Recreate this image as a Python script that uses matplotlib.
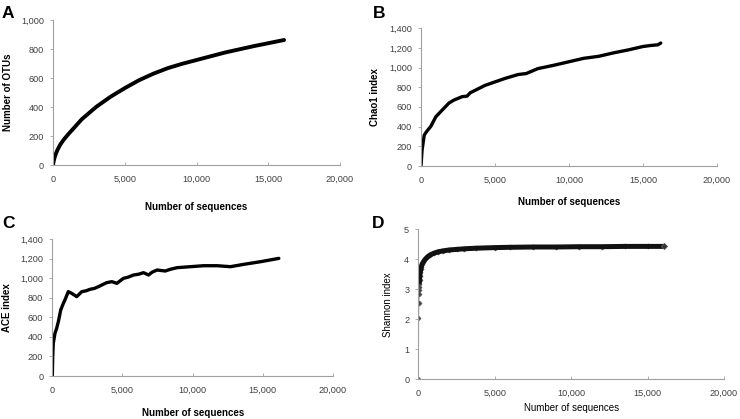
import numpy as np
import matplotlib
matplotlib.use("Agg")
import matplotlib.pyplot as plt
from matplotlib.ticker import FuncFormatter, MultipleLocator

plt.rcParams['font.family'] = ['Liberation Sans', 'DejaVu Sans']

# A - observed OTUs
seq_a = [0, 50, 100, 200, 300, 500, 750, 1000, 1500, 2000, 3000, 4000, 5000, 6000,
         7000, 8000, 9000, 10000, 11000, 12000, 13000, 14000, 15000, 16100]
otu = [0, 28, 48, 78, 102, 140, 175, 205, 260, 315, 400, 470, 530, 585,
       630, 668, 698, 724, 750, 776, 798, 820, 840, 862]

# B - Chao1
seq_b = [0, 70, 220, 380, 670, 1000, 1440, 1890, 2220, 2780, 3110, 3330, 3670, 4330,
         5000, 5670, 6560, 7110, 7890, 9000, 10000, 11000, 12000, 13000, 14000,
         15000, 15500, 16000, 16200]
chao = [0, 160, 315, 350, 405, 500, 570, 640, 670, 705, 710, 745, 770, 820,
        855, 890, 930, 940, 990, 1025, 1060, 1095, 1115, 1150, 1180,
        1215, 1225, 1232, 1250]

# C - ACE
seq_c = [0, 30, 70, 190, 310, 430, 600, 790, 900, 1140, 1380, 1740, 2100, 2400,
         2690, 3000, 3290, 3600, 3880, 4240, 4600, 5070, 5400, 5790, 6150, 6500,
         6860, 7100, 7460, 8050, 8400, 8890, 9840, 10790, 11740, 12690, 13640,
         14840, 16140]
ace = [0, 200, 334, 436, 487, 555, 675, 743, 777, 862, 845, 811, 862, 870,
       886, 895, 913, 935, 954, 964, 947, 998, 1010, 1032, 1040, 1056,
       1032, 1060, 1083, 1073, 1090, 1107, 1117, 1127, 1127, 1117, 1141,
       1168, 1202]

# D - Shannon
seq_d = [0, 10, 20, 30, 40, 50, 60, 80, 100, 130, 160, 200, 250, 340, 450, 600,
         755, 1000, 1300, 1610, 2000, 2500, 3000, 3770, 5000, 6000, 7500, 9000,
         10500, 12000, 13500, 15000, 16100]
shannon = [0, 2.05, 2.55, 2.85, 2.98, 3.08, 3.18, 3.32, 3.45, 3.58, 3.68, 3.76,
           3.84, 3.92, 4.0, 4.08, 4.14, 4.2, 4.25, 4.28, 4.31, 4.33, 4.35, 4.37,
           4.39, 4.4, 4.41, 4.41, 4.42, 4.42, 4.43, 4.43, 4.43]

W, H = 740, 419
fig = plt.figure(figsize=(7.4, 4.19), dpi=100)


def make_ax(l, r, t, b):
    return fig.add_axes([l / W, 1 - b / H, (r - l) / W, (b - t) / H])


comma = FuncFormatter(lambda v, p: f"{int(v):,}")


def style(ax, ymax, ystep, ylab, xlab, ylx, xly, bold=True, yfmt=True):
    ax.set_xlim(0, 20000)
    ax.set_ylim(0, ymax)
    ax.xaxis.set_major_locator(MultipleLocator(5000))
    ax.yaxis.set_major_locator(MultipleLocator(ystep))
    ax.xaxis.set_major_formatter(comma)
    if yfmt:
        ax.yaxis.set_major_formatter(comma)
    for s in ['top', 'right']:
        ax.spines[s].set_visible(False)
    for s in ['left', 'bottom']:
        ax.spines[s].set_color('#a0a0a0')
        ax.spines[s].set_linewidth(0.8)
    ax.tick_params(axis='y', direction='out', length=2.5, width=0.6, color='#a0a0a0',
                   labelsize=6.6, labelcolor='#404040', pad=4)
    ax.tick_params(axis='x', direction='in', length=2.5, width=0.6, color='#a0a0a0',
                   labelsize=6.6, labelcolor='#404040', pad=7)
    w = 'bold' if bold else 'normal'
    ax.set_ylabel(ylab, fontsize=7, fontweight=w, color='black')
    ax.set_xlabel(xlab, fontsize=7, fontweight=w, color='black')
    ax.yaxis.set_label_coords(ylx, 0.5)
    ax.xaxis.set_label_coords(0.5, xly)
    ax.patch.set_alpha(0)


axA = make_ax(53, 340, 20, 165)
axA.plot(seq_a, otu, color='black', lw=2.8, solid_capstyle='round')
style(axA, 1000, 200, 'Number of OTUs', 'Number of sequences', -0.139, -0.255)

axB = make_ax(421, 717, 28.3, 166)
axB.plot(seq_b, chao, color='black', lw=2.4, solid_capstyle='round')
style(axB, 1400, 200, 'Chao1 index', 'Number of sequences', -0.139, -0.225)

axC = make_ax(52.3, 333, 239, 376)
axC.plot(seq_c, ace, color='black', lw=2.4, solid_capstyle='round')
style(axC, 1400, 200, 'ACE index', 'Number of sequences', -0.145, -0.234)

axD = make_ax(418.3, 724, 229.3, 379.3)
axD.plot(seq_d, shannon, color='#555555', lw=0.9, marker='D', ms=2.6,
         mfc='#444444', mec='#555555', mew=0.5)
axD.plot(seq_d[6:], shannon[6:], color='#111111', lw=3.6, solid_capstyle='butt')
axD.plot(seq_d[-1:], shannon[-1:], ls='none', marker='D', ms=3.2,
         mfc='#333333', mec='#666666', mew=0.5)
style(axD, 5, 1, 'Shannon index', 'Number of sequences', -0.082, -0.158,
      bold=False, yfmt=False)

for letter, x, y in [('A', 2, 18.3), ('B', 373, 17.7), ('C', 2, 228.3), ('D', 372, 228.3)]:
    fig.text(x / W, 1 - y / H, letter, fontsize=12.5, fontweight='bold',
             va='baseline', ha='left')

fig.savefig('out.png', dpi=100)
